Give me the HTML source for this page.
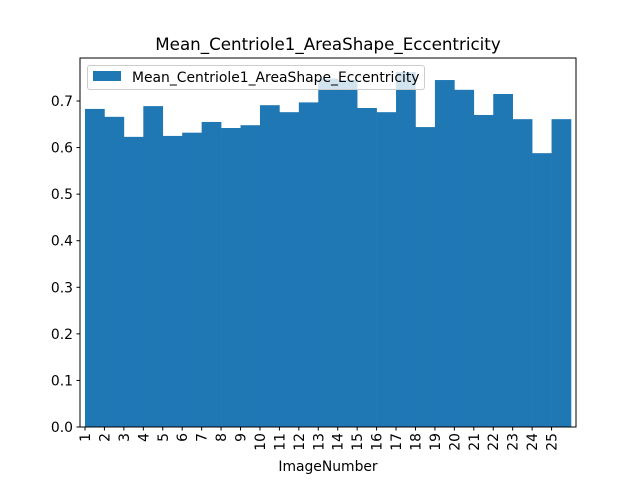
<!DOCTYPE html>
<html><head><meta charset="utf-8"><style>body{margin:0;background:#fff}svg{display:block;font-family:"DejaVu Sans","Liberation Sans",sans-serif}</style></head>
<body>
<svg id="c" width="640" height="480"></svg>
<script>
const categories=[1,2,3,4,5,6,7,8,9,10,11,12,13,14,15,16,17,18,19,20,21,22,23,24,25];
const values=[0.683,0.666,0.623,0.689,0.625,0.632,0.655,0.642,0.648,0.691,0.676,0.697,0.748,0.745,0.685,0.676,0.762,0.644,0.745,0.724,0.670,0.715,0.661,0.588,0.661];
const yTicks=[0,0.1,0.2,0.3,0.4,0.5,0.6,0.7];
const L=80,R=576,T=58,B=427;
const n=categories.length;
const x=i=>85+(571-85)*i/n;
const y=v=>B-v*(B-101)/0.7;
const s=document.getElementById('c');const NS='http://www.w3.org/2000/svg';
function mk(t,a,p){const e=document.createElementNS(NS,t);for(const k in a)e.setAttribute(k,a[k]);(p||s).appendChild(e);return e;}
values.forEach((v,i)=>{const r=mk('rect',{x:x(i),y:y(v),width:x(i+1)-x(i)+0.3,height:B-y(v),fill:'#1f77b4'});

});
mk('rect',{x:L,y:T,width:R-L,height:B-T,fill:'none',stroke:'#000','stroke-width':1});
yTicks.forEach(t=>{const yy=y(t);mk('line',{x1:L-3.5,x2:L,y1:yy,y2:yy,stroke:'#000'});
const tx=mk('text',{x:L-7,y:yy+5,'text-anchor':'end','font-size':13.9});tx.textContent=t.toFixed(1);

});
categories.forEach((c,i)=>{const xx=x(i);mk('line',{x1:xx,x2:xx,y1:B,y2:B+3.5,stroke:'#000'});
const tx=mk('text',{x:0,y:0,'text-anchor':'end','font-size':13.9,transform:`translate(${xx+5},${B+6}) rotate(-90)`});tx.textContent=c;

});
const xt=mk('text',{x:328,y:471,'text-anchor':'middle','font-size':13.9});xt.textContent='ImageNumber';


const ti=mk('text',{x:328,y:50,'text-anchor':'middle','font-size':16.7});ti.textContent='Mean_Centriole1_AreaShape_Eccentricity';


const g=mk('g',{});


mk('rect',{x:87.5,y:65.5,width:337,height:24,rx:2.5,fill:'#fff','fill-opacity':0.8,stroke:'#ccc'},g);
mk('rect',{x:93,y:71,width:28,height:10,fill:'#1f77b4'},g);
const lt=mk('text',{x:132,y:82,'font-size':13.9},g);lt.textContent='Mean_Centriole1_AreaShape_Eccentricity';
</script>
</body></html>
